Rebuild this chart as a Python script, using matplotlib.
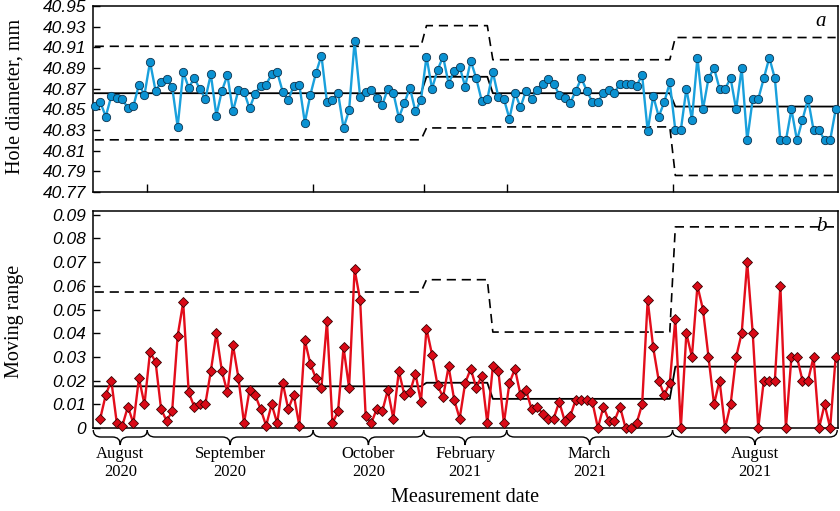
import numpy as np
import matplotlib
matplotlib.use("Agg")
import matplotlib.pyplot as plt
from matplotlib.path import Path
from matplotlib.patches import PathPatch
from matplotlib.transforms import blended_transform_factory

# ---------------- data ----------------
diameter = [
    40.853, 40.857, 40.843, 40.863, 40.861, 40.860, 40.851, 40.853, 40.874, 40.864,
    40.896, 40.868, 40.876, 40.879, 40.872, 40.833, 40.886, 40.871, 40.880, 40.870,
    40.860, 40.884, 40.844, 40.868, 40.883, 40.848, 40.869, 40.867, 40.851, 40.865,
    40.873, 40.874, 40.884, 40.886, 40.867, 40.859, 40.873, 40.874, 40.837, 40.864,
    40.885, 40.902, 40.857, 40.859, 40.866, 40.832, 40.849, 40.916, 40.862, 40.867,
    40.869, 40.861, 40.854, 40.870, 40.866, 40.842, 40.856, 40.871, 40.848, 40.859,
    40.901, 40.870, 40.888, 40.901, 40.875, 40.887, 40.891, 40.872, 40.897, 40.880,
    40.858, 40.860, 40.886, 40.862, 40.860, 40.841, 40.866, 40.852, 40.868, 40.860,
    40.869, 40.875, 40.879, 40.875, 40.864, 40.861, 40.856, 40.868, 40.880, 40.868,
    40.857, 40.857, 40.866, 40.869, 40.866, 40.875, 40.875, 40.875, 40.873, 40.883,
    40.829, 40.863, 40.843, 40.857, 40.876, 40.83, 40.83, 40.87, 40.84, 40.90,
    40.85, 40.88, 40.89, 40.87, 40.87, 40.88, 40.85, 40.89, 40.82, 40.86,
    40.86, 40.88, 40.90, 40.88, 40.82, 40.82, 40.85, 40.82, 40.84, 40.86,
    40.83, 40.83, 40.82, 40.82, 40.85,
]

# moving range values (point 2 .. point 135)
moving_range = [
    0.004, 0.014, 0.020, 0.002, 0.001, 0.009, 0.002, 0.021, 0.010,
    0.032, 0.028, 0.008, 0.003, 0.007, 0.039, 0.053, 0.015, 0.009, 0.010,
    0.010, 0.024, 0.040, 0.024, 0.015, 0.035, 0.021, 0.002, 0.016, 0.014,
    0.008, 0.001, 0.010, 0.002, 0.019, 0.008, 0.014, 0.001, 0.037, 0.027,
    0.021, 0.017, 0.045, 0.002, 0.007, 0.034, 0.017, 0.067, 0.054, 0.005,
    0.002, 0.008, 0.007, 0.016, 0.004, 0.024, 0.014, 0.015, 0.023, 0.011,
    0.042, 0.031, 0.018, 0.013, 0.026, 0.012, 0.004, 0.019, 0.025, 0.017,
    0.022, 0.002, 0.026, 0.024, 0.002, 0.019, 0.025, 0.014, 0.016, 0.008,
    0.009, 0.006, 0.004, 0.004, 0.011, 0.003, 0.005, 0.012, 0.012, 0.012,
    0.011, 0.000, 0.009, 0.003, 0.003, 0.009, 0.000, 0.000, 0.002, 0.010,
    0.054, 0.034, 0.020, 0.014, 0.019, 0.046, 0.000, 0.040, 0.030, 0.060,
    0.050, 0.030, 0.010, 0.020, 0.000, 0.010, 0.030, 0.040, 0.070, 0.040,
    0.000, 0.020, 0.020, 0.020, 0.060, 0.000, 0.030, 0.030, 0.020, 0.020,
    0.030, 0.000, 0.010, 0.000, 0.030,
]

# control-chart phases
phase_lengths = [60, 12, 33, 30]
x_center = [40.8656, 40.8815, 40.8656, 40.8527]
x_ucl = [40.911, 40.931, 40.898, 40.9195]
x_lcl = [40.8205, 40.832, 40.833, 40.786]
mr_center = [0.0176, 0.0191, 0.0123, 0.0259]
mr_ucl = [0.0574, 0.0626, 0.0405, 0.0849]

# measurement-date groups
month_labels = ["August\n2020", "September\n2020", "October\n2020",
                "February\n2021", "March\n2021", "August\n2021"]
month_counts = [10, 30, 20, 15, 30, 30]

yticks_top = [40.77, 40.79, 40.81, 40.83, 40.85, 40.87, 40.89, 40.91, 40.93, 40.95]
ytick_labels_top = ["40.77", "40.79", "40.81", "40.83", "40.85", "40.87",
                    "40.89", "40.91", "40.93", "40.95"]
yticks_bot = [0, 0.01, 0.02, 0.03, 0.04, 0.05, 0.06, 0.07, 0.08, 0.09]
ytick_labels_bot = ["0", "0.01", "0.02", "0.03", "0.04", "0.05",
                    "0.06", "0.07", "0.08", "0.09"]

# ---------------- figure ----------------
n = len(diameter)
idx = np.arange(1, n + 1)
idx_mr = np.arange(2, n + 1)

fig = plt.figure(figsize=(8.4, 5.11), dpi=100)
W, H = 840.0, 511.0
left, right = 93 / W, 837.5 / W
ax1 = fig.add_axes([left, 1 - 192 / H, right - left, 186 / H])
ax2 = fig.add_axes([left, 1 - 428 / H, right - left, 217 / H])

xlim = (0.69, n + 0.33)
serif = "Liberation Serif"
sans = "Liberation Sans"
dash = (0, (5.5, 3.5))

def rep(v):
    return np.repeat(v, phase_lengths)

# top chart
ax1.plot(idx, rep(x_ucl), color="black", lw=1.2, ls=dash, zorder=2)
ax1.plot(idx, rep(x_lcl), color="black", lw=1.2, ls=dash, zorder=2)
ax1.plot(idx, rep(x_center), color="black", lw=1.3, zorder=2)
ax1.plot(idx, diameter, color="#19a0dc", lw=1.7, zorder=3,
         marker="o", ms=6, mfc="#0b92d2", mec="#0c3450", mew=0.6, clip_on=False)

# bottom chart
ax2.plot(idx, rep(mr_ucl), color="black", lw=1.2, ls=dash, zorder=2)
ax2.plot(idx, rep(mr_center), color="black", lw=1.3, zorder=2)
ax2.plot(idx_mr, moving_range, color="#e30d1b", lw=1.7, zorder=3,
         marker="D", ms=5.3, mfc="#d90a17", mec="#3a0000", mew=0.6, clip_on=False)

bounds = np.concatenate([[xlim[0] + 0.05], np.cumsum(month_counts)[:-1] + 0.5, [xlim[1] - 0.05]])

for ax in (ax1, ax2):
    ax.set_xlim(*xlim)
    for s in ax.spines.values():
        s.set_linewidth(1.1)
    ax.tick_params(axis="y", direction="in", length=5, width=1, pad=5, labelsize=12.5)

ax1.set_ylim(40.77, 40.95)
ax1.set_yticks(yticks_top)
ax1.set_yticklabels(ytick_labels_top, fontfamily=sans, fontstyle="italic", fontsize=12.5)
ax1.set_xticks(bounds[1:-1])
ax1.set_xticklabels([])
ax1.tick_params(axis="x", direction="in", length=5.5, width=1)

ax2.set_ylim(0, 0.0916)
ax2.set_yticks(yticks_bot)
ax2.set_yticklabels(ytick_labels_bot, fontfamily=sans, fontstyle="italic", fontsize=12.5)
ax2.set_xticks([])

fig.text(15 / W, 1 - 96 / H, "Hole diameter, mm", rotation=90, ha="center", va="center",
         fontfamily=serif, fontsize=14.5)
fig.text(15 / W, 1 - 321 / H, "Moving range", rotation=90, ha="center", va="center",
         fontfamily=serif, fontsize=14.5)

ax1.text(0.985, 0.915, "a", transform=ax1.transAxes, ha="right", va="center",
         fontfamily=serif, fontstyle="italic", fontsize=15)
ax2.text(0.985, 0.93, "b", transform=ax2.transAxes, ha="right", va="center",
         fontfamily=serif, fontstyle="italic", fontsize=15)

# braces under the bottom chart
tr = blended_transform_factory(ax2.transData, ax2.transAxes)
px = 1 / 217.0
y0 = -2 * px
ym = -9 * px
yt = -17 * px
r = 1.4
for i, lab in enumerate(month_labels):
    a, b = bounds[i], bounds[i + 1]
    m = (a + b) / 2
    verts = [(a, y0), (a, ym), (a + r, ym), (m - r, ym), (m, ym), (m, yt),
             (m, ym), (m + r, ym), (b - r, ym), (b, ym), (b, y0)]
    codes = [Path.MOVETO, Path.CURVE3, Path.CURVE3, Path.LINETO, Path.CURVE3, Path.CURVE3,
             Path.CURVE3, Path.CURVE3, Path.LINETO, Path.CURVE3, Path.CURVE3]
    patch = PathPatch(Path(verts, codes), transform=tr, fill=False, lw=1.0,
                      edgecolor="black", clip_on=False)
    ax2.add_patch(patch)
    ax2.text(m, -17.5 * px, lab, transform=tr, ha="center", va="top",
             fontfamily=serif, fontsize=12, linespacing=1.2)

ax2.text(0.5, -69 * px, "Measurement date", transform=ax2.transAxes, ha="center",
         va="center", fontfamily=serif, fontsize=14.5)

fig.savefig("out.png", dpi=100)
